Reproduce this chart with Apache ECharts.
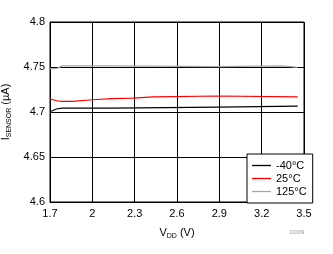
<!DOCTYPE html>
<html>
<head>
<meta charset="utf-8">
<script src="https://cdn.jsdelivr.net/npm/echarts@6/dist/echarts.min.js"></script>
<style>html,body{margin:0;padding:0;background:#fff}#c{width:333px;height:254px}</style>
</head>
<body>
<div id="c"></div>
<script>
// Data (x = VDD in V, y = ISENSOR in µA)
const seriesNames = ['-40°C', '25°C', '125°C'];
const xMinus40 = [1.70, 1.745, 1.785, 2.14, 2.15, 2.89, 2.90, 3.455];
const yMinus40 = [4.7002, 4.7033, 4.7044, 4.7044, 4.7055, 4.7055, 4.7066, 4.7066];
const x25 = [1.70, 1.75, 1.78, 1.86, 1.87, 2.00, 2.01, 2.14, 2.15, 2.29, 2.30, 2.43, 2.44, 2.89, 2.90, 3.455];
const y25 = [4.7144, 4.7125, 4.7118, 4.7118, 4.7136, 4.7136, 4.7148, 4.7148, 4.7155, 4.7155, 4.7167, 4.7167, 4.7178, 4.7178, 4.7167, 4.7167];
const x125 = [1.70, 1.75, 1.76, 1.785, 2.14, 2.15, 2.89, 2.90, 3.33, 3.34, 3.41, 3.42, 3.455];
const y125 = [4.7482, 4.7484, 4.7495, 4.7513, 4.7513, 4.7505, 4.7505, 4.7513, 4.7513, 4.7505, 4.7505, 4.7496, 4.7496];
const xTickLabels = ['1.7', '2', '2.3', '2.6', '2.9', '3.2', '3.5'];
const yTickLabels = ['4.6', '4.65', '4.7', '4.75', '4.8'];

const X0 = 1.7; // axis origin offset so ticks start at 0 with interval 0.3
const colors = ['#000000', '#ff0000', '#a6a6a6'];
function pts(xs, ys) { return xs.map((x, i) => [x - X0, ys[i]]); }

const chart = echarts.init(document.getElementById('c'), null, {renderer: 'canvas'});
const font = 'Liberation Sans, Arial, sans-serif';
chart.setOption({
  animation: false,
  textStyle: {fontFamily: font},
  grid: {left: 50, top: 22, right: 29, bottom: 52, outerBoundsMode: 'none', containLabel: false,
    show: true, borderColor: '#000', borderWidth: 1, backgroundColor: 'transparent'},
  xAxis: {
    type: 'value', min: 0, max: 1.8, interval: 0.3,
    axisLine: {show: true, lineStyle: {color: '#000', width: 1}},
    axisTick: {show: false},
    splitLine: {show: true, lineStyle: {color: '#000', width: 1}},
    axisLabel: {color: '#000', fontSize: 11, fontFamily: font, margin: 6,
      formatter: v => xTickLabels[Math.round(v / 0.3)]},
    name: '{a|V}{s|DD}{a| (V)}', nameLocation: 'middle', nameGap: 24,
    nameTextStyle: {rich: {
      a: {fontSize: 11, color: '#000', fontFamily: font, lineHeight: 14, verticalAlign: 'middle'},
      s: {fontSize: 7, color: '#000', fontFamily: font, lineHeight: 14, verticalAlign: 'bottom', padding: [4, 0, 0, 0]}
    }}
  },
  yAxis: {
    type: 'value', min: 4.6, max: 4.8, interval: 0.05,
    axisLine: {show: true, lineStyle: {color: '#000', width: 1}},
    axisTick: {show: false},
    splitLine: {show: true, lineStyle: {color: '#000', width: 1}},
    axisLabel: {color: '#000', fontSize: 11, fontFamily: font, margin: 5,
      formatter: v => yTickLabels[Math.round((v - 4.6) / 0.05)]},
    name: '{a|I}{s|SENSOR}{a| (µA)}', nameLocation: 'middle', nameGap: 33, nameRotate: 90,
    nameTextStyle: {rich: {
      a: {fontSize: 11, color: '#000', fontFamily: font, lineHeight: 14, verticalAlign: 'middle'},
      s: {fontSize: 7, color: '#000', fontFamily: font, lineHeight: 14, verticalAlign: 'bottom', padding: [4, 0, 0, 0]}
    }}
  },
  legend: {
    orient: 'vertical', left: 247, top: 154, width: 57,
    data: seriesNames,
    backgroundColor: '#fff', borderColor: '#000', borderWidth: 1,
    padding: [6, 6, 6, 5], itemGap: 2, itemWidth: 19, itemHeight: 1.3,
    icon: 'rect',
    textStyle: {fontSize: 11, color: '#000', fontFamily: font}
  },
  graphic: [{type: 'text', left: 290, top: 229, style: {text: 'D009', fontSize: 6, fill: '#999', fontFamily: font}}],
  series: [
    {name: seriesNames[2], type: 'line', data: pts(x125, y125), symbol: 'none', z: 10,
      lineStyle: {color: colors[2], width: 1.3}, itemStyle: {color: colors[2]}},
    {name: seriesNames[0], type: 'line', data: pts(xMinus40, yMinus40), symbol: 'none', z: 3,
      lineStyle: {color: colors[0], width: 1.2}, itemStyle: {color: colors[0]}},
    {name: seriesNames[1], type: 'line', data: pts(x25, y25), symbol: 'none', z: 3,
      lineStyle: {color: colors[1], width: 1.2}, itemStyle: {color: colors[1]}}
  ]
});
</script>
</body>
</html>
